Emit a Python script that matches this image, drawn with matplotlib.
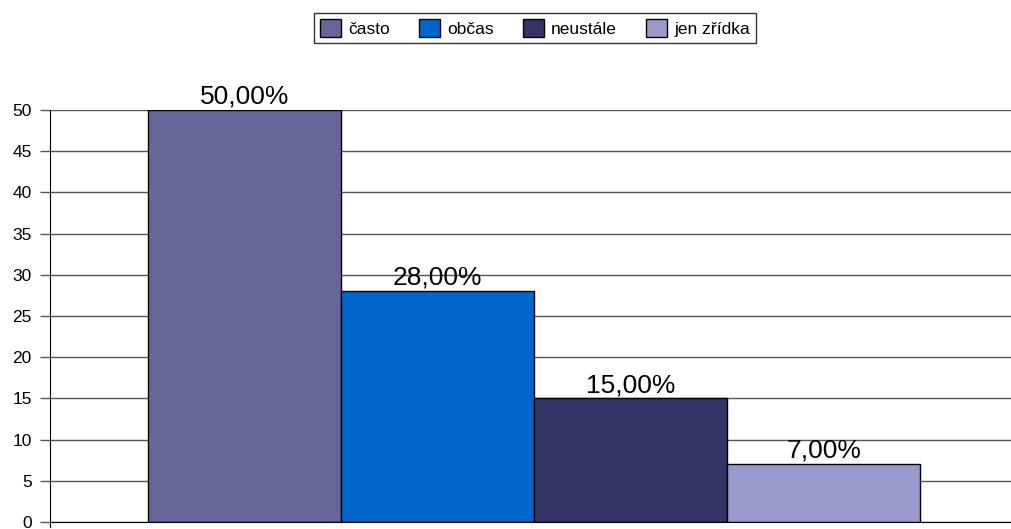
import numpy as np
import matplotlib as mpl
mpl.use('Agg')
from matplotlib import pyplot as plt

# survey answers and their shares (%)
answers = ['často', 'občas', 'neustále', 'jen zřídka']
shares = [50, 28, 15, 7]
share_labels = ['50,00%', '28,00%', '15,00%', '7,00%']
colors = ['#666699', '#0066CC', '#333366', '#9999CC']
yticks = [0, 5, 10, 15, 20, 25, 30, 35, 40, 45, 50]

plt.rcParams['font.family'] = ['Liberation Sans', 'DejaVu Sans']

fig = plt.figure(figsize=(10.11, 5.29), dpi=100)
ax = fig.add_axes([50 / 1011, 7 / 529, 961 / 1011, 412 / 529])

x = np.arange(len(answers))
bars = ax.bar(x, shares, width=1.0, color=colors, edgecolor='black',
              linewidth=1.0, label=answers, zorder=3)

for b, txt in zip(bars, share_labels):
    ax.annotate(txt, (b.get_x() + b.get_width() / 2, b.get_height()),
                xytext=(0, 1), textcoords='offset points',
                ha='center', va='bottom', fontsize=19, zorder=4)

ax.set_xlim(-1.008, 3.971)
ax.set_ylim(0, 50)
ax.set_yticks(yticks)
ax.set_yticklabels([str(t) for t in yticks], fontsize=12.5)
ax.yaxis.grid(True, color='#555555', linewidth=1.0, zorder=1)
ax.tick_params(axis='y', length=7.2, width=1.0, color='#555555', pad=6)
ax.set_xticks([])

for s in ['top', 'right']:
    ax.spines[s].set_visible(False)
ax.spines['left'].set_color('black')
ax.spines['bottom'].set_color('black')
ax.spines['left'].set_bounds(-0.6, 50)
ax.spines['left'].set_zorder(5)
ax.spines['bottom'].set_zorder(5)

leg = fig.legend(handles=list(bars), labels=answers, ncol=4,
                 loc='center', bbox_to_anchor=(535 / 1011, 1 - 28 / 529),
                 fontsize=12.5, frameon=True, fancybox=False,
                 edgecolor='black', handlelength=1.2, handleheight=1.2,
                 handletextpad=0.4, columnspacing=1.7, borderpad=0.35)
leg.get_frame().set_linewidth(1.0)

fig.savefig('out.png', dpi=100)
